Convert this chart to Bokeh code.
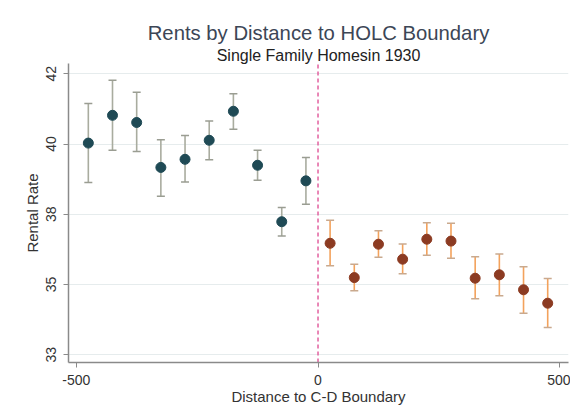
from bokeh.plotting import figure
from bokeh.models import (ColumnDataSource, Whisker, TeeHead, FixedTicker,
                          Range1d, Title)
from bokeh.embed import file_html
from bokeh.resources import INLINE

# ---- data ----
left_x = [-475, -425, -375, -325, -275, -225, -175, -125, -75, -25]
left_mean = [39.78, 40.67, 40.44, 39.00, 39.26, 39.87, 40.80, 39.07, 37.26, 38.57]
left_lo = [38.52, 39.55, 39.51, 38.08, 38.53, 39.25, 40.22, 38.59, 36.80, 37.82]
left_hi = [41.05, 41.79, 41.41, 39.89, 40.02, 40.49, 41.36, 39.55, 37.72, 39.32]

right_x = [25, 75, 125, 175, 225, 275, 325, 375, 425, 475]
right_mean = [36.57, 35.47, 36.54, 36.06, 36.70, 36.64, 35.45, 35.56, 35.08, 34.65]
right_lo = [35.85, 35.05, 36.12, 35.59, 36.19, 36.09, 34.79, 34.89, 34.33, 33.87]
right_hi = [37.31, 35.90, 36.97, 36.55, 37.23, 37.21, 36.14, 36.23, 35.82, 35.44]

y_ticks = [33, 35.25, 37.5, 39.75, 42]
y_tick_labels = ["33", "35", "38", "40", "42"]
x_ticks = [-500, 0, 500]
x_tick_labels = ["-500", "0", "500"]
boundary_x = 0

title_text = "Rents by Distance to HOLC Boundary"
subtitle_text = "Single Family Homesin 1930"
x_label = "Distance to C-D Boundary"
y_label = "Rental Rate"

FONT = "Liberation Sans"
Y_MIN, Y_MAX = 32.75, 42.33

p = figure(width=570, height=407, x_range=Range1d(-516, 518), y_range=Range1d(Y_MIN, Y_MAX),
           output_backend="svg", toolbar_location=None, title=None,
           min_border_left=68, min_border_right=2, min_border_top=63, min_border_bottom=44)
p.outline_line_color = None
p.background_fill_color = "white"
p.border_fill_color = "white"

# titles
sub = Title(text=subtitle_text, align="center", text_font=FONT, text_font_size="16px",
            text_font_style="normal", text_color="#222222", standoff=0, offset=0)
main = Title(text=title_text, align="center", text_font=FONT, text_font_size="20.3px",
             text_font_style="normal", text_color="#3c4656", standoff=2, offset=0)
p.add_layout(sub, "above")
p.add_layout(main, "above")

# grid
p.xgrid.visible = False
p.ygrid.ticker = FixedTicker(ticks=y_ticks)
p.ygrid.grid_line_color = "#e6eced"
p.ygrid.grid_line_width = 1

# axes
p.xaxis.ticker = FixedTicker(ticks=x_ticks)
p.xaxis.major_label_overrides = {t: l for t, l in zip(x_ticks, x_tick_labels)}
p.yaxis.ticker = FixedTicker(ticks=y_ticks)
p.yaxis.major_label_overrides = {t: l for t, l in zip(y_ticks, y_tick_labels)}
p.yaxis.major_label_orientation = "vertical"
for ax in (p.xaxis, p.yaxis):
    ax.axis_line_color = "#8a8a8a"
    ax.axis_line_width = 1.5
    ax.major_tick_line_color = "#8a8a8a"
    ax.major_tick_in = 0
    ax.major_tick_out = 5
    ax.minor_tick_line_color = None
    ax.major_label_text_font = FONT
    ax.major_label_text_font_size = "14px"
    ax.major_label_text_color = "#333333"
    ax.axis_label_text_font = FONT
    ax.axis_label_text_font_size = "15px"
    ax.axis_label_text_font_style = "normal"
    ax.axis_label_text_color = "#333333"
p.xaxis.major_label_standoff = 7
p.xaxis.axis_label_standoff = 0
p.yaxis.major_label_standoff = 7
p.yaxis.axis_label_standoff = 3
p.xaxis.axis_label = x_label
p.yaxis.axis_label = y_label

# boundary line (within the plot region only)
p.segment(x0=[boundary_x], y0=[Y_MIN], x1=[boundary_x], y1=[Y_MAX],
          line_color="#e2609f", line_dash="4 3", line_width=1.5)

# error bars and points
left_src = ColumnDataSource(dict(x=left_x, m=left_mean, lo=left_lo, hi=left_hi))
right_src = ColumnDataSource(dict(x=right_x, m=right_mean, lo=right_lo, hi=right_hi))

for src, bar_col, cap_col, pt_col in ((left_src, "#a9ac9f", "#9a9d92", "#1f4a55"),
                                      (right_src, "#f3a25c", "#c9a98e", "#8c3b22")):
    w = Whisker(source=src, base="x", lower="lo", upper="hi", dimension="height",
                line_color=bar_col, line_width=1.6,
                upper_head=TeeHead(size=8, line_color=cap_col, line_width=1.5),
                lower_head=TeeHead(size=8, line_color=cap_col, line_width=1.5))
    p.add_layout(w)
    p.scatter("x", "m", source=src, size=10, fill_color=pt_col, line_color=pt_col)

open("out.html", "w").write(file_html(p, INLINE))
